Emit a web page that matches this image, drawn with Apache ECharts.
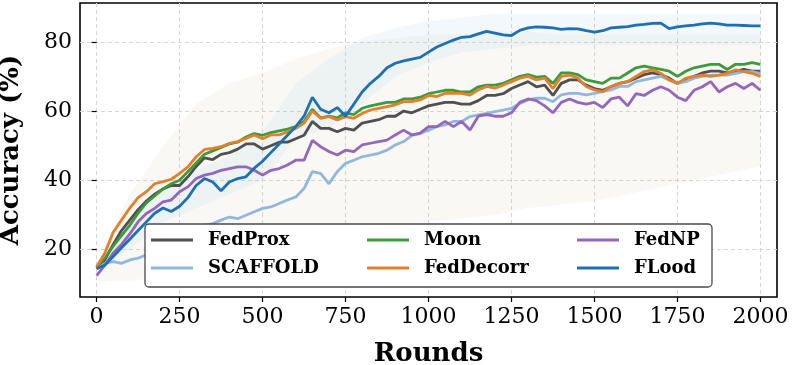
<!DOCTYPE html>
<html>
<head>
<meta charset="utf-8">
<script src="https://cdn.jsdelivr.net/npm/echarts@6/dist/echarts.min.js"></script>
<style>
  html, body { margin: 0; padding: 0; background: #fff; }
  #main { width: 792px; height: 365px; }
</style>
</head>
<body>
<div id="main"></div>
<script>
// rounds at which the smoothed curves were read
const rounds = [
  0, 25, 50, 75, 100, 125, 150, 175, 200, 225,
  250, 275, 300, 325, 350, 375, 400, 425, 450, 475,
  500, 525, 550, 575, 600, 625, 650, 675, 700, 725,
  750, 775, 800, 825, 850, 875, 900, 925, 950, 975,
  1000, 1025, 1050, 1075, 1100, 1125, 1150, 1175, 1200, 1225,
  1250, 1275, 1300, 1325, 1350, 1375, 1400, 1425, 1450, 1475,
  1500, 1525, 1550, 1575, 1600, 1625, 1650, 1675, 1700, 1725,
  1750, 1775, 1800, 1825, 1850, 1875, 1900, 1925, 1950, 1975,
  2000
];

const fedProx = [
  14.5, 17.0, 21.5, 25.5, 28.5, 31.5, 34.0, 36.0, 37.5, 38.5,
  38.5, 41.0, 44.0, 46.5, 46.0, 47.5, 48.0, 49.0, 50.5, 50.5,
  49.0, 50.0, 51.0, 51.0, 52.0, 53.0, 57.0, 55.0, 55.0, 54.0,
  55.0, 54.5, 56.5, 57.0, 57.5, 58.5, 58.5, 60.0, 59.5, 60.5,
  61.5, 62.0, 62.5, 62.5, 62.0, 62.0, 63.0, 64.5, 64.5, 65.0,
  66.5, 67.5, 68.5, 67.0, 67.5, 64.5, 68.0, 69.0, 69.0, 67.5,
  66.5, 66.0, 67.0, 68.0, 68.5, 69.5, 70.5, 71.0, 70.5, 69.5,
  68.0, 69.0, 70.0, 71.0, 71.5, 71.5, 71.0, 71.5, 72.0, 71.5,
  71.5
];
const scaffold = [
  14.5, 16.0, 16.5, 16.0, 17.0, 17.5, 18.5, 19.5, 20.5, 21.5,
  22.5, 24.0, 26.0, 27.0, 27.5, 28.5, 29.4, 28.9, 29.9, 30.9,
  31.9, 32.3, 33.3, 34.3, 35.2, 37.6, 42.5, 42.0, 39.0, 42.5,
  44.9, 45.8, 46.8, 47.3, 47.8, 48.7, 50.2, 51.2, 53.0, 53.5,
  54.5, 55.5, 56.0, 57.0, 57.0, 58.4, 58.9, 59.3, 59.8, 60.3,
  60.8, 62.2, 63.2, 63.7, 63.7, 62.7, 64.7, 65.1, 65.1, 64.7,
  65.1, 65.6, 66.1, 67.1, 67.1, 68.5, 69.0, 69.5, 70.0, 69.0,
  68.0, 68.5, 69.5, 70.0, 70.4, 70.4, 70.4, 70.9, 71.4, 71.4,
  70.9
];
const moon = [
  15.0, 17.5, 21.0, 24.0, 27.0, 30.5, 33.5, 35.5, 37.5, 39.0,
  40.0, 42.5, 45.0, 47.5, 48.5, 49.5, 50.5, 51.0, 52.5, 53.5,
  53.0, 53.8, 54.3, 54.8, 55.5, 57.0, 60.5, 58.0, 58.5, 58.0,
  59.5, 59.0, 60.8, 61.5, 62.0, 62.5, 62.5, 63.5, 63.5, 64.0,
  65.0, 65.5, 66.0, 66.0, 65.5, 65.5, 67.0, 67.5, 67.5, 68.0,
  69.0, 70.0, 70.5, 69.8, 70.0, 68.0, 71.0, 71.0, 70.5, 69.0,
  68.5, 68.0, 69.5, 69.5, 71.0, 72.5, 73.0, 72.5, 72.0, 71.5,
  70.0, 71.5, 72.5, 73.0, 73.5, 73.5, 72.0, 73.5, 73.5, 74.0,
  73.5
];
const fedDecorr = [
  15.0, 19.0, 25.0, 28.5, 32.0, 35.0, 36.7, 39.0, 39.6, 40.3,
  42.0, 43.9, 46.8, 48.9, 49.2, 49.7, 50.7, 51.2, 52.1, 53.1,
  52.0, 53.1, 53.1, 54.0, 55.0, 56.5, 60.0, 57.9, 58.4, 57.4,
  58.4, 57.9, 59.3, 60.3, 60.8, 61.3, 61.8, 62.7, 62.7, 63.2,
  64.5, 64.2, 65.1, 65.1, 65.1, 64.6, 66.1, 67.1, 66.6, 67.5,
  68.5, 69.5, 70.0, 69.0, 69.5, 66.5, 70.0, 70.4, 69.5, 67.1,
  66.1, 65.6, 67.1, 68.0, 68.5, 70.0, 71.4, 71.9, 70.9, 69.0,
  68.0, 69.5, 70.0, 70.4, 70.0, 70.4, 70.9, 71.9, 71.4, 70.9,
  70.0
];
const fedNP = [
  12.5, 15.5, 19.0, 21.5, 24.5, 28.0, 30.4, 31.9, 33.8, 34.3,
  36.7, 38.1, 40.5, 41.5, 42.0, 42.9, 43.4, 43.9, 43.9, 42.9,
  41.5, 42.9, 43.4, 44.4, 45.8, 45.8, 51.5, 49.7, 48.3, 47.3,
  48.7, 48.3, 50.2, 50.7, 51.2, 51.6, 53.1, 54.5, 53.1, 53.6,
  55.5, 55.5, 57.0, 55.5, 57.0, 54.5, 58.5, 59.0, 58.5, 58.5,
  59.5, 62.5, 63.5, 63.0, 61.5, 59.5, 62.5, 63.5, 62.5, 62.0,
  62.5, 61.0, 63.5, 64.0, 61.5, 65.0, 64.5, 66.0, 67.0, 66.0,
  64.0, 63.0, 66.0, 67.0, 68.5, 65.5, 67.0, 68.0, 66.5, 68.0,
  66.0
];
const flood = [
  14.5, 15.5, 18.0, 20.5, 23.0, 25.5, 28.0, 30.5, 32.0, 31.0,
  32.5, 35.0, 38.5, 40.5, 39.5, 37.0, 39.5, 40.5, 41.0, 43.5,
  45.5, 48.0, 50.5, 53.0, 55.5, 58.5, 64.0, 60.5, 59.5, 61.0,
  58.5, 62.0, 65.5, 68.0, 70.0, 72.5, 73.8, 74.5, 75.0, 75.5,
  77.0, 78.5, 79.5, 80.5, 81.3, 81.5, 82.3, 83.0, 82.5, 82.0,
  81.8, 83.3, 84.0, 84.3, 84.2, 84.0, 83.6, 83.8, 83.7, 83.2,
  82.8, 83.2, 84.0, 84.2, 84.4, 84.8, 85.0, 85.3, 85.4, 83.8,
  84.3, 84.6, 84.8, 85.2, 85.4, 85.2, 84.8, 84.8, 84.7, 84.6,
  84.6
];

// faint spread of the raw (unsmoothed) runs, read every 100 rounds
const hazeRounds = [0, 100, 200, 300, 400, 500, 600, 700, 800, 900, 1000,
  1100, 1200, 1300, 1400, 1500, 1600, 1700, 1800, 1900, 2000];
const hazeLow = [11, 11, 12, 13, 15, 18, 20, 22, 25, 27, 28, 29, 30, 32, 33, 34, 36, 38, 40, 42, 44];
const hazeHigh = [16, 36, 50, 62, 68, 71, 75, 78, 80, 81, 82, 82, 83, 83, 82, 82, 82, 82, 82, 82, 82];
const floodHazeLow = [14, 20, 28, 32, 36, 40, 52, 55, 62, 70, 74, 77, 78, 79, 79, 79, 79, 79, 79, 79, 79];
const floodHazeHigh = [16, 28, 37, 43, 47, 54, 68, 75, 81, 84, 86, 87, 88, 88, 88, 88, 88, 88, 88, 88, 88];

const xTicks = [0, 250, 500, 750, 1000, 1250, 1500, 1750, 2000];
const yTicks = [20, 40, 60, 80];

const names = ['FedProx', 'SCAFFOLD', 'Moon', 'FedDecorr', 'FedNP', 'FLood'];
const colors = ['#505050', '#92b7de', '#3d9a3d', '#e2802b', '#9467bd', '#1f6fb4'];
const values = [fedProx, scaffold, moon, fedDecorr, fedNP, flood];

const serif = 'DejaVu Serif';

function pairs(xs, ys) {
  return xs.map((x, i) => [x, ys[i]]);
}

// shaded polygon between two envelopes
function band(low, high, color, opacity) {
  return {
    type: 'custom',
    silent: true,
    z: 1,
    data: [[0, low[0]]],
    renderItem: function (params, api) {
      const pts = [];
      hazeRounds.forEach((r, i) => pts.push(api.coord([r, high[i]])));
      for (let i = hazeRounds.length - 1; i >= 0; i--) {
        pts.push(api.coord([hazeRounds[i], low[i]]));
      }
      return { type: 'polygon', shape: { points: pts }, style: { fill: color, opacity: opacity } };
    }
  };
}

const lineSeries = names.map((name, i) => ({
  name: name,
  type: 'line',
  symbol: 'none',
  showSymbol: false,
  z: 2 + i * 0.01,
  lineStyle: { color: colors[i], width: 2.8 },
  itemStyle: { color: colors[i] },
  data: pairs(rounds, values[i])
}));

const legendBase = {
  orient: 'vertical',
  icon: 'rect',
  itemWidth: 42,
  itemHeight: 3,
  itemGap: 10,
  padding: 0,
  top: 231,
  z: 10,
  textStyle: { fontFamily: serif, fontWeight: 'bold', fontSize: 18, color: '#000', padding: [0, 0, 0, 10] }
};

const axisText = { fontFamily: serif, fontSize: 22, color: '#000', formatter: v => String(v) };
const nameText = { fontFamily: serif, fontWeight: 'bold', fontSize: 26, color: '#000' };
const gridLine = { show: true, lineStyle: { color: '#d6d6d6', type: [4, 3], width: 1 } };

const chart = echarts.init(document.getElementById('main'), null, { renderer: 'canvas' });
chart.setOption({
  animation: false,
  backgroundColor: '#fff',
  grid: {
    left: 80, right: 15, top: 3, bottom: 68,
    containLabel: false, outerBoundsMode: 'none',
    show: true, borderColor: '#000', borderWidth: 1.6
  },
  xAxis: {
    type: 'value', min: -50, max: 2050,
    name: 'Rounds', nameLocation: 'middle', nameGap: 44, nameTextStyle: nameText,
    axisLine: { show: false },
    axisTick: { show: true, customValues: xTicks, length: 5, lineStyle: { color: '#000', width: 1.2 } },
    axisLabel: Object.assign({ customValues: xTicks, margin: 9 }, axisText),
    splitLine: gridLine
  },
  yAxis: {
    type: 'value', min: 6.3, max: 91.2,
    name: 'Accuracy (%)', nameLocation: 'middle', nameGap: 56, nameTextStyle: nameText,
    axisLine: { show: false },
    axisTick: { show: true, customValues: yTicks, length: 5, lineStyle: { color: '#000', width: 1.2 } },
    axisLabel: Object.assign({ customValues: yTicks, margin: 8 }, axisText),
    splitLine: gridLine
  },
  legend: [
    Object.assign({ data: ['FedProx', 'SCAFFOLD'], left: 151 }, legendBase),
    Object.assign({ data: ['Moon', 'FedDecorr'], left: 367 }, legendBase),
    Object.assign({ data: ['FedNP', 'FLood'], left: 577 }, legendBase)
  ],
  graphic: [{
    type: 'rect', z: 5, silent: true,
    shape: { x: 145, y: 224, width: 567, height: 63, r: 4 },
    style: { fill: '#fff', stroke: '#4a4a4a', lineWidth: 1.3 }
  }],
  series: [
    band(hazeLow, hazeHigh, '#cbbd9f', 0.11),
    band(floodHazeLow, floodHazeHigh, '#a9cbea', 0.14)
  ].concat(lineSeries)
});
</script>
</body>
</html>
